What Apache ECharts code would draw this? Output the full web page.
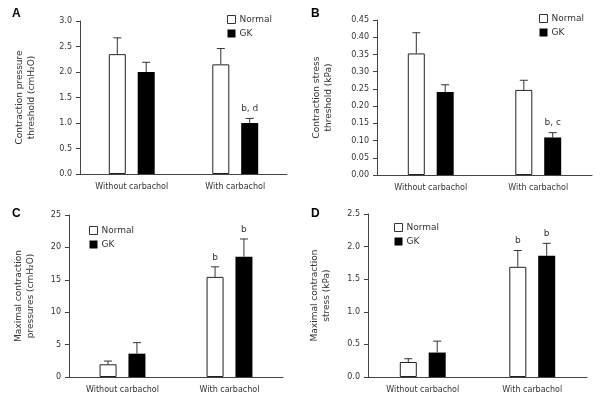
<!DOCTYPE html>
<html>
<head>
<meta charset="utf-8">
<script src="https://cdn.jsdelivr.net/npm/echarts@6/dist/echarts.min.js"></script>
<style>
  html, body { margin: 0; padding: 0; background: #fff; }
  #chart { width: 607px; height: 406px; }
</style>
</head>
<body>
<div id="chart"></div>
<script>
// categories shared by all four panels
var categories = ['Without carbachol', 'With carbachol'];

// A: contraction pressure threshold (cmH2O)
var normalA = [2.35, 2.15];
var normalErrA = [0.32, 0.31];
var gkA = [2.0, 1.0];
var gkErrA = [0.19, 0.09];
var gkNoteA = ['', 'b, d'];

// B: contraction stress threshold (kPa)
var normalB = [0.353, 0.247];
var normalErrB = [0.06, 0.028];
var gkB = [0.241, 0.109];
var gkErrB = [0.021, 0.014];
var gkNoteB = ['', 'b, c'];

// C: maximal contraction pressures (cmH2O)
var normalC = [1.96, 15.45];
var normalErrC = [0.5, 1.55];
var gkC = [3.6, 18.55];
var gkErrC = [1.7, 2.75];
var normalNoteC = ['', 'b'];
var gkNoteC = ['', 'b'];

// D: maximal contraction stress (kPa)
var normalD = [0.23, 1.69];
var normalErrD = [0.05, 0.25];
var gkD = [0.375, 1.86];
var gkErrD = [0.175, 0.19];
var normalNoteD = ['', 'b'];
var gkNoteD = ['', 'b'];

var FONT = 'DejaVu Sans';
var TXT = '#333';
var AXIS = '#444';
var BAR_W = 17;
var BAR_GAP = 0.7;
var OFF = (BAR_W + BAR_W * BAR_GAP) / 2;

var myChart = echarts.init(document.getElementById('chart'));

function errData(mean, err) {
    return mean.map(function (m, i) { return [i, m, m + err[i]]; });
}

// upper-only error bar (T shape) with optional significance note
function errorSeries(name, idx, mean, err, offset, notes) {
    return {
        name: name,
        type: 'custom',
        xAxisIndex: idx,
        yAxisIndex: idx,
        z: 5,
        data: errData(mean, err),
        renderItem: function (params, api) {
            var p0 = api.coord([api.value(0), api.value(1)]);
            var p1 = api.coord([api.value(0), api.value(2)]);
            var cx = p0[0] + offset;
            var st = { stroke: '#333', lineWidth: 1 };
            var children = [
                { type: 'line', shape: { x1: cx, y1: p0[1], x2: cx, y2: p1[1] }, style: st },
                { type: 'line', shape: { x1: cx - 4, y1: p1[1], x2: cx + 4, y2: p1[1] }, style: st }
            ];
            var note = notes ? notes[params.dataIndex] : '';
            if (note) {
                children.push({
                    type: 'text',
                    style: {
                        text: note, x: cx, y: p1[1] - 5,
                        align: 'center', verticalAlign: 'bottom',
                        fontFamily: FONT, fontSize: 9, fill: TXT
                    }
                });
            }
            return { type: 'group', children: children };
        }
    };
}

function barPair(idx, normal, gk) {
    return [
        {
            name: 'Normal', type: 'bar', xAxisIndex: idx, yAxisIndex: idx,
            barWidth: BAR_W, barGap: (BAR_GAP * 100) + '%',
            itemStyle: { color: '#fff', borderColor: '#222', borderWidth: 1 },
            data: normal
        },
        {
            name: 'GK', type: 'bar', xAxisIndex: idx, yAxisIndex: idx,
            barWidth: BAR_W, barGap: (BAR_GAP * 100) + '%',
            itemStyle: { color: '#000' },
            data: gk
        }
    ];
}

function xAxis(idx) {
    return {
        type: 'category', gridIndex: idx, data: categories,
        axisLine: { lineStyle: { color: AXIS } },
        axisTick: { inside: true, length: 3, lineStyle: { color: AXIS } },
        axisLabel: { fontFamily: FONT, fontSize: 8, color: TXT, margin: 9 }
    };
}

function yAxis(idx, max, interval, digits, name, gap) {
    return {
        type: 'value', gridIndex: idx, min: 0, max: max, interval: interval,
        name: name, nameLocation: 'middle', nameRotate: 90, nameGap: gap,
        nameTextStyle: { fontFamily: FONT, fontSize: 9, color: TXT, lineHeight: 12 },
        axisLine: { show: true, lineStyle: { color: AXIS } },
        axisTick: { show: true, length: 4, lineStyle: { color: AXIS } },
        splitLine: { show: false },
        axisLabel: {
            fontFamily: FONT, fontSize: 8, color: TXT, margin: 8,
            formatter: function (v) { return v.toFixed(digits); }
        }
    };
}

function legend(left, top) {
    return {
        data: [
            { name: 'Normal', itemStyle: { color: '#fff', borderColor: '#333', borderWidth: 1 } },
            { name: 'GK', itemStyle: { color: '#000', borderWidth: 0 } }
        ],
        orient: 'vertical', left: left, top: top,
        itemWidth: 8, itemHeight: 8, itemGap: 5, icon: 'rect',
        selectedMode: false,
        textStyle: { fontFamily: FONT, fontSize: 9, color: TXT, padding: [0, 0, 0, -1] }
    };
}

function letter(txt, x, y) {
    return {
        type: 'text', left: x, top: y,
        style: { text: txt, fontFamily: 'Liberation Sans', fontSize: 12, fontWeight: 'bold', fill: '#000' }
    };
}

var option = {
    animation: false,
    backgroundColor: '#fff',
    grid: [
        { left: 80, top: 21, width: 207, height: 153 },
        { left: 377, top: 20, width: 215, height: 155 },
        { left: 69, top: 215, width: 214, height: 162 },
        { left: 368, top: 214, width: 219, height: 163 }
    ],
    xAxis: [xAxis(0), xAxis(1), xAxis(2), xAxis(3)],
    yAxis: [
        yAxis(0, 3, 0.5, 1, 'Contraction pressure\nthreshold (cmH\u2082O)', 42),
        yAxis(1, 0.45, 0.05, 2, 'Contraction stress\nthreshold (kPa)', 42),
        yAxis(2, 25, 5, 0, 'Maximal contraction\npressures (cmH\u2082O)', 32),
        yAxis(3, 2.5, 0.5, 1, 'Maximal contraction\nstress (kPa)', 35)
    ],
    legend: [
        legend(222, 10),
        legend(534, 9),
        legend(84, 221),
        legend(389, 218)
    ],
    graphic: [
        letter('A', 12, 8),
        letter('B', 311, 8),
        letter('C', 12, 208),
        letter('D', 311, 208)
    ],
    series: [].concat(
        barPair(0, normalA, gkA),
        [errorSeries('errNA', 0, normalA, normalErrA, -OFF, null),
         errorSeries('errGA', 0, gkA, gkErrA, OFF, gkNoteA)],
        barPair(1, normalB, gkB),
        [errorSeries('errNB', 1, normalB, normalErrB, -OFF, null),
         errorSeries('errGB', 1, gkB, gkErrB, OFF, gkNoteB)],
        barPair(2, normalC, gkC),
        [errorSeries('errNC', 2, normalC, normalErrC, -OFF, normalNoteC),
         errorSeries('errGC', 2, gkC, gkErrC, OFF, gkNoteC)],
        barPair(3, normalD, gkD),
        [errorSeries('errND', 3, normalD, normalErrD, -OFF, normalNoteD),
         errorSeries('errGD', 3, gkD, gkErrD, OFF, gkNoteD)]
    )
};
myChart.setOption(option, true);
</script>
</body>
</html>
